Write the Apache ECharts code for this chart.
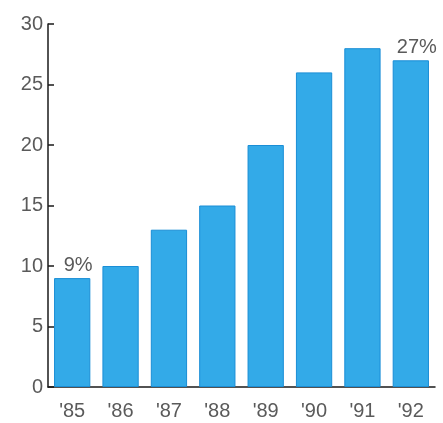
<!DOCTYPE html>
<html>
<head>
<meta charset="utf-8">
<script src="https://cdn.jsdelivr.net/npm/echarts@6/dist/echarts.min.js"></script>
<style>
  html, body { margin: 0; padding: 0; background: #fff; }
  #chart { width: 443px; height: 423px; }
</style>
</head>
<body>
<div id="chart"></div>
<script>
// Yearly share, 1985–1992 (percent)
const years = ["'85", "'86", "'87", "'88", "'89", "'90", "'91", "'92"];
const shares = [9, 10, 13, 15, 20, 26, 28, 27];
const yTicks = { min: 0, max: 30, step: 5 };
// Only the first and last bars carry a value label
const labelledIdx = [0, 7];

const textColor = '#5a5a5a';
const fontFamily = '"Liberation Sans", Arial, sans-serif';

const barData = shares.map((v, i) => {
  const item = { value: v };
  if (labelledIdx.includes(i)) {
    item.label = {
      show: true,
      position: 'top',
      offset: [6, 2],
      formatter: v + '%',
      color: textColor,
      fontSize: 20,
      fontFamily: fontFamily
    };
  }
  return item;
});

const chart = echarts.init(document.getElementById('chart'), null, { renderer: 'canvas' });
chart.setOption({
  animation: false,
  grid: { left: 48, right: 8, top: 24, bottom: 36 },
  xAxis: {
    type: 'category',
    data: years,
    axisLine: { lineStyle: { color: '#1a1a1a', width: 1.5 } },
    axisTick: { show: false },
    axisLabel: { color: textColor, fontSize: 20, fontFamily: fontFamily, margin: 14 }
  },
  yAxis: {
    type: 'value',
    min: yTicks.min,
    max: yTicks.max,
    interval: yTicks.step,
    axisLine: { show: true, lineStyle: { color: '#1a1a1a', width: 1.5 } },
    axisTick: { show: true, inside: true, length: 6, lineStyle: { color: '#1a1a1a', width: 1.5 } },
    splitLine: { show: false },
    axisLabel: { color: textColor, fontSize: 20, fontFamily: fontFamily, margin: 5 }
  },
  series: [{
    type: 'bar',
    data: barData,
    barCategoryGap: '25%',
    itemStyle: { color: '#33aae8', borderColor: '#1a8ed6', borderWidth: 1 }
  }]
});
</script>
</body>
</html>
